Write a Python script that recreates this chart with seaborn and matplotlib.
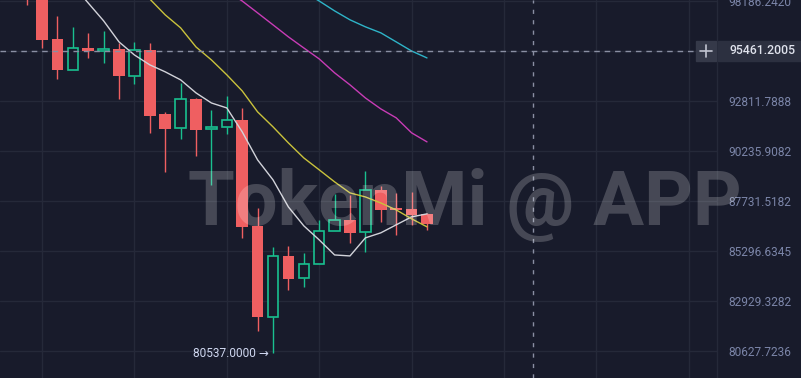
import numpy as np
import pandas as pd
import matplotlib
matplotlib.use("Agg")
import matplotlib.pyplot as plt
import seaborn as sns
from matplotlib.lines import Line2D
from matplotlib.patches import Rectangle
from matplotlib.ticker import NullLocator

# ---------------- data ----------------
candle_idx = list(range(-1, 26))
opens = [100950, 99910, 96115, 94454, 95625, 95461, 95570, 94136, 95516, 92142,
         91421, 92918, 91369, 91472, 91833, 86514, 82193, 85060, 84018, 84681,
         86270, 86806, 86222, 88282, 87391, 87342, 87098]
highs = [101200, 100200, 97369, 96769, 96442, 96551, 95897, 95952, 95897, 92245,
         93765, 92971, 92348, 93077, 92451, 87391, 85491, 85540, 85202, 86806,
         88082, 88032, 89234, 88483, 88132, 88182, 87147]
lows = [97968, 95625, 93977, 94454, 95090, 94825, 92918, 93712, 91163, 89184,
        90854, 89985, 88533, 91112, 85930, 81548, 80537, 83450, 83592, 84681,
        86270, 85686, 85249, 86709, 86076, 86563, 86319]
closes = [99910, 96061, 94454, 95625, 95461, 95570, 94136, 95516, 92039, 91369,
          92918, 91318, 91472, 91833, 86465, 82193, 85060, 83971, 84681, 86270,
          86806, 86173, 88282, 87293, 87293, 87050, 86611]

ma_white_idx = list(range(2, 26))
ma_white = [99074, 98077, 97096, 95952, 95249, 94719, 94348, 93924, 93236, 92709,
            92451, 91215, 89785, 88783, 87439, 86514, 85832, 85107, 85060, 85930,
            86173, 86563, 86952, 87098]
ma_yellow_idx = list(range(6, 26))
ma_yellow = [99296, 98297, 97423, 96715, 95679, 94984, 94189, 93340, 92245, 91472,
             90648, 89885, 89284, 88682, 88132, 87932, 87634, 87293, 86855, 86465]
ma_magenta_idx = list(range(12, 26))
ma_magenta = [98742, 98186, 97532, 96878, 96224, 95625, 95037, 94295, 93659, 92971,
              92400, 91936, 91163, 90700]
ma_cyan_idx = list(range(17, 26))
ma_cyan = [98686, 98186, 97641, 97151, 96769, 96442, 95952, 95461, 95090]

y_ticks = [98186.2420, 95461.2005, 92811.7888, 90235.9082, 87731.5182,
           85296.6345, 82929.3282, 80627.7236]
cross_price = 95461.2005
low_price = 80537.0000
low_idx = 15
watermark = "TokenMi @ APP"

# ---------------- style ----------------
BG = "#181b2b"
GRID = "#252939"
GREEN = "#19c08f"
RED = "#ef5f61"
LABEL = "#7b85a8"

sns.set_theme(style="dark")
plt.rcParams["font.family"] = ["Roboto", "DejaVu Sans"]

W, H = 801, 378
fig = plt.figure(figsize=(W / 100, H / 100), dpi=100, facecolor=BG)
ax_right = 717
ax = fig.add_axes([0, 0, ax_right / W, 1])
ax.set_facecolor(BG)
for s in ax.spines.values():
    s.set_visible(False)

# x geometry: candle 0 at 42px, spacing 15.4px
x0, dx = 42, 15.4
ax.set_xlim(-x0 / dx, (ax_right - x0) / dx)

# log y scale: ticks 50px apart
ax.set_yscale("log")
step = (y_ticks[0] / y_ticks[-1]) ** (1 / 7)
ax.set_ylim(y_ticks[-1] * step ** (-27 / 50), y_ticks[0] * step ** (1 / 50))

# grid
ax.set_xticks(list(range(0, 43, 6)))
ax.set_xticklabels([])
ax.xaxis.set_minor_locator(NullLocator())
ax.set_yticks(y_ticks)
ax.yaxis.set_minor_locator(NullLocator())
ax.set_yticklabels(["" if abs(v - cross_price) < 1e-6 else f"{v:.4f}" for v in y_ticks])
ax.yaxis.tick_right()
ax.tick_params(axis="y", which="both", length=0, pad=8.5, labelcolor=LABEL, labelsize=8.6)
ax.tick_params(axis="x", which="both", length=0)
ax.grid(True, color=GRID, linewidth=1, zorder=0)
ax.set_axisbelow(True)

# candles
df = pd.DataFrame(dict(i=candle_idx, o=opens, h=highs, l=lows, c=closes))
BW = 0.76
for r in df.itertuples():
    top, bot = max(r.o, r.c), min(r.o, r.c)
    if r.c >= r.o:
        ax.vlines(r.i, top, r.h, color=GREEN, lw=1, zorder=2)
        ax.vlines(r.i, r.l, bot, color=GREEN, lw=1, zorder=2)
        ax.bar(r.i, top - bot, bottom=bot, width=BW - 0.08, facecolor=BG,
               edgecolor=GREEN, linewidth=1.2, zorder=3)
    else:
        ax.vlines(r.i, r.l, r.h, color=RED, lw=1, zorder=2)
        ax.bar(r.i, top - bot, bottom=bot, width=BW, color=RED, linewidth=0, zorder=3)

# moving averages
for xs, ys, col in [(ma_white_idx, ma_white, "#d2d3da"),
                    (ma_yellow_idx, ma_yellow, "#c9c23c"),
                    (ma_magenta_idx, ma_magenta, "#c83cb6"),
                    (ma_cyan_idx, ma_cyan, "#2eb4c8")]:
    sns.lineplot(x=xs, y=ys, ax=ax, color=col, linewidth=1.0, zorder=4)

# crosshair
ax.axhline(cross_price, xmax=696 / ax_right, color="#8a8fa3", lw=1,
           dashes=(4, 3.5), zorder=5)
ax.axvline((533 - x0) / dx, color="#8a8fa3", lw=1, dashes=(3, 4.5), zorder=5)

# right separator
fig.add_artist(Line2D([ax_right / W + 0.0006] * 2, [0, 1], color=GRID, lw=1,
                      transform=fig.transFigure))

# crosshair price label
yc = 1 - 51 / H
fig.add_artist(Rectangle((696 / W, 1 - 61 / H), 20 / W, 20 / H, color="#353949",
                         transform=fig.transFigure, zorder=6))
fig.add_artist(Rectangle((718 / W, 1 - 61 / H), 83 / W, 20 / H, color="#2c3040",
                         transform=fig.transFigure, zorder=6))
fig.add_artist(Line2D([700 / W, 712 / W], [yc, yc], color="#c2c5d1", lw=1.2,
                      transform=fig.transFigure, zorder=7))
fig.add_artist(Line2D([706 / W, 706 / W], [yc - 6 / H, yc + 6 / H], color="#c2c5d1",
                      lw=1.2, transform=fig.transFigure, zorder=7))
fig.text(729 / W, yc, f"{cross_price:.4f}", color="#dfe2ec", fontsize=8.8,
         fontweight="medium", ha="left", va="center", zorder=8)

# low marker
ax.annotate(f"{low_price:.4f} →", xy=(low_idx, low_price), xytext=(-3, 0),
            textcoords="offset points", ha="right", va="center",
            color="#cfd7f0", fontsize=8.6, zorder=6)

# watermark
fig.text(465 / W, 1 - 225 / H, watermark, ha="center", va="baseline",
         fontsize=54.5, fontweight="bold", color="white", alpha=0.2, zorder=10)

fig.savefig("out.png", dpi=100, facecolor=BG)
